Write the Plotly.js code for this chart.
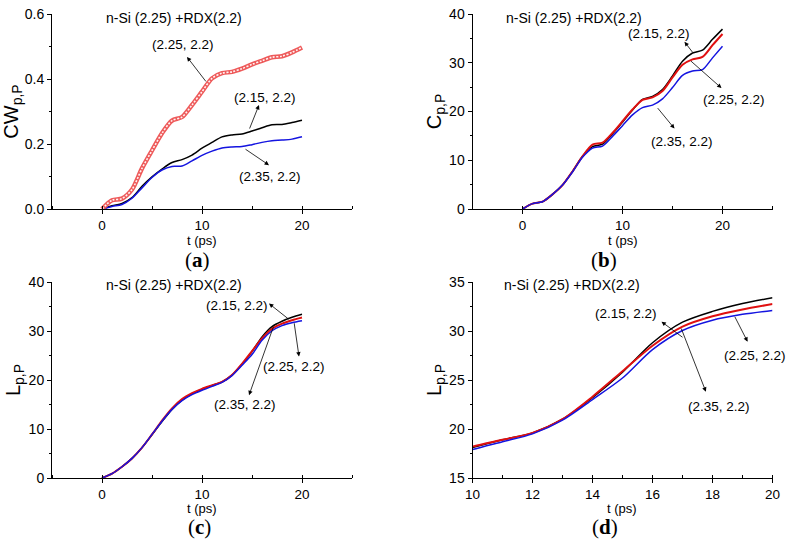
<!DOCTYPE html>
<html>
<head>
<meta charset="utf-8">
<script src="https://cdn.plot.ly/plotly-3.0.1.min.js"></script>
<style>html,body{margin:0;padding:0;background:#fff;}#chart{width:794px;height:540px;}</style>
</head>
<body>
<div id="chart"></div>
<script>
// ---------- data ----------
const tA = [0,1,2,3,4,5,6,7,8,9,10,11,12,13,14,15,16,17,18,19,20];
const cwBlack = [0,0.010,0.017,0.035,0.070,0.099,0.123,0.143,0.152,0.166,0.187,0.205,0.222,0.228,0.231,0.240,0.250,0.259,0.260,0.266,0.273];
const cwRed   = [0,0.027,0.032,0.060,0.125,0.180,0.233,0.272,0.283,0.320,0.361,0.402,0.418,0.422,0.432,0.445,0.456,0.467,0.470,0.482,0.497];
const cwBlue  = [0,0.008,0.014,0.033,0.065,0.097,0.120,0.131,0.132,0.148,0.165,0.178,0.188,0.191,0.192,0.198,0.205,0.210,0.212,0.215,0.222];

const tB = [0,1,2,3,4,5,6,7,8,9,10,11,12,13,14,15,16,17,18,19,20];
const cBlack = [0,1.1,1.5,3.0,4.9,7.7,10.8,12.8,13.3,15.4,17.8,20.3,22.5,23.1,24.5,27.3,30.3,32.0,32.6,34.8,36.9];
const cRed   = [0,1.1,1.5,3.0,4.9,7.7,10.8,13.2,13.6,15.6,18.0,20.4,22.4,22.9,24.2,27.0,29.6,30.7,31.2,33.6,35.9];
const cBlue  = [0,1.1,1.5,3.0,4.9,7.6,10.6,12.5,12.9,14.9,17.1,19.3,20.8,21.3,22.6,24.9,27.4,28.3,28.6,31.0,33.4];

const tL = [0,1,2,3,4,5,6,7,8,9,10,11,12,13,14,15,16,17,18,19,20];
const lBlack = [0,0.9,2.3,4.0,6.2,8.8,11.5,14.0,15.9,17.2,18.1,18.9,19.6,21.0,23.2,25.8,28.8,30.9,32.0,32.8,33.4];
const lRed   = [0,0.9,2.3,4.0,6.2,8.9,11.7,14.2,16.1,17.3,18.2,18.9,19.6,21.0,23.3,25.9,28.5,30.45,31.5,32.2,32.75];
const lBlue  = [0,0.9,2.3,4.0,6.2,8.9,11.6,14.0,15.8,17.0,17.9,18.7,19.5,20.9,23.0,25.2,28.1,30.05,31.1,31.7,32.1];

const seriesNames = ['(2.15, 2.2)','(2.25, 2.2)','(2.35, 2.2)'];
const systemLabel = 'n-Si (2.25) +RDX(2.2)';
const panelLabels = ['a','b','c','d'];
const yTitles = ['CW<sub>p,P</sub>','C<sub>p,P</sub>','L<sub>p,P</sub>','L<sub>p,P</sub>'];
const xTitle = 't (ps)';

// ---------- styles ----------
const BLACK = '#000000', RED = '#e01010', BLUE = '#1414e0';
const FONT = 'Liberation Sans, Arial, sans-serif';

function line(x, y, color, width, xa, ya) {
  return {x: x, y: y, xaxis: xa, yaxis: ya, mode: 'lines', type: 'scatter',
    line: {color: color, width: width, shape: 'spline', smoothing: 0.8}, hoverinfo: 'skip', showlegend: false};
}

const traces = [
  line(tA, cwBlack, BLACK, 1.5, 'x', 'y'),
  line(tA, cwBlue, BLUE, 1.5, 'x', 'y'),
  line(tA, cwRed, '#ee5a5a', 4.5, 'x', 'y'),
  line(tA, cwRed, '#fff2f2', 1.6, 'x', 'y'),
  line(tB, cBlack, BLACK, 1.5, 'x2', 'y2'),
  line(tB, cRed, RED, 2, 'x2', 'y2'),
  line(tB, cBlue, BLUE, 1.5, 'x2', 'y2'),
  line(tL, lBlack, BLACK, 1.5, 'x3', 'y3'),
  line(tL, lRed, RED, 2, 'x3', 'y3'),
  line(tL, lBlue, BLUE, 1.5, 'x3', 'y3'),
  line(tL, lBlack, BLACK, 1.5, 'x4', 'y4'),
  line(tL, lRed, RED, 2, 'x4', 'y4'),
  line(tL, lBlue, BLUE, 1.5, 'x4', 'y4')
];
traces[3].line.dash = '2px,1.5px';

function xax(domain, range, dtick, minorDtick, anchor) {
  return {domain: domain, range: range, dtick: dtick, anchor: anchor, showgrid: false, zeroline: false,
    showline: true, linecolor: '#000', linewidth: 1, ticks: 'outside', ticklen: 4, tickcolor: '#000', tickwidth: 1,
    tickfont: {family: FONT, size: 13.5, color: '#000'},
    minor: {dtick: minorDtick, ticks: 'inside', ticklen: 3, tickcolor: '#000', showgrid: false},
    fixedrange: true};
}
function yax(domain, range, dtick, minorDtick, anchor, title, fmt) {
  return {domain: domain, range: range, dtick: dtick, anchor: anchor, showgrid: false, zeroline: false,
    showline: true, linecolor: '#000', linewidth: 1, ticks: 'outside', ticklen: 4, tickcolor: '#000', tickwidth: 1,
    tickformat: fmt || '', tickfont: {family: FONT, size: 14, color: '#000'},
    minor: {dtick: minorDtick, ticks: 'outside', ticklen: 2, tickcolor: '#000', showgrid: false},
    title: {text: title, font: {family: FONT, size: 20, color: '#000'}, standoff: 2}, fixedrange: true};
}

const W = 794, H = 540;
const dxL = [52/W, 352/W], dxR = [472.5/W, 772.5/W];
const dyT = [1-209/H, 1-14/H], dyB = [1-478/H, 1-282/H];

function txt(xr, yr, x, y, s, size) {
  return {xref: xr, yref: yr, x: x, y: y, text: s, showarrow: false, font: {family: FONT, size: size || 13.5, color: '#000'}, xanchor: 'center', yanchor: 'middle'};
}
function arr(xr, yr, hx, hy, tx, ty) {
  return {xref: xr, yref: yr, axref: xr, ayref: yr, x: hx, y: hy, ax: tx, ay: ty, text: '', showarrow: true,
    arrowhead: 2, arrowsize: 1.1, arrowwidth: 0.8, arrowcolor: '#000'};
}
function plab(x, y, s) {
  return {xref: 'paper', yref: 'paper', x: x/W, y: 1-y/H, text: '(<b>' + s + '</b>)', showarrow: false,
    font: {family: 'Liberation Serif, Times New Roman, serif', size: 21, color: '#000'}, xanchor: 'center', yanchor: 'middle'};
}
function xlab(x, y) {
  return {xref: 'paper', yref: 'paper', x: x/W, y: 1-y/H, text: xTitle, showarrow: false,
    font: {family: FONT, size: 13, color: '#000'}, xanchor: 'center', yanchor: 'middle'};
}

const annotations = [
  // (a)
  txt('x','y', 7.2, 0.588, systemLabel, 14),
  txt('x','y', 8.1, 0.505, seriesNames[1]), arr('x','y', 8.5, 0.468, 10.5, 0.388),
  txt('x','y', 16.3, 0.342, seriesNames[0]), arr('x','y', 15.7, 0.320, 14.7, 0.243),
  txt('x','y', 16.8, 0.099, seriesNames[2]), arr('x','y', 16.7, 0.135, 14.2, 0.187),
  // (b)
  txt('x2','y2', 5.1, 39.1, systemLabel, 14),
  txt('x2','y2', 13.6, 36.0, seriesNames[0]), arr('x2','y2', 16.2, 34.3, 17.1, 31.9),
  txt('x2','y2', 21.1, 22.4, seriesNames[1]), arr('x2','y2', 19.9, 24.8, 16.7, 30.6),
  txt('x2','y2', 15.9, 13.8, seriesNames[2]), arr('x2','y2', 15.2, 16.5, 13.4, 21.0),
  // (c)
  txt('x3','y3', 7.2, 39.4, systemLabel, 14),
  txt('x3','y3', 13.5, 35.3, seriesNames[0]), arr('x3','y3', 16.7, 35.6, 18.8, 32.2),
  txt('x3','y3', 19.2, 22.7, seriesNames[1]), arr('x3','y3', 19.7, 24.8, 19.2, 31.9),
  txt('x3','y3', 14.3, 14.9, seriesNames[2]), arr('x3','y3', 14.7, 16.9, 17.2, 31.2),
  // (d)
  txt('x4','y4', 13.3, 34.7, systemLabel, 14),
  txt('x4','y4', 15.1, 31.8, seriesNames[0]), arr('x4','y4', 16.3, 30.95, 17.05, 29.25),
  txt('x4','y4', 19.4, 27.55, seriesNames[1]), arr('x4','y4', 19.17, 28.9, 18.72, 31.6),
  txt('x4','y4', 18.2, 22.3, seriesNames[2]), arr('x4','y4', 17.78, 23.8, 16.94, 30.4),
  // x titles
  xlab(202, 240), xlab(622.5, 240), xlab(202, 508), xlab(622, 508),
  // panel labels
  plab(197, 260, panelLabels[0]), plab(604, 260, panelLabels[1]),
  plab(199, 527, panelLabels[2]), plab(605, 527, panelLabels[3])
];

const layout = {
  width: W, height: H, margin: {l: 0, r: 0, t: 0, b: 0}, paper_bgcolor: '#fff', plot_bgcolor: 'rgba(0,0,0,0)',
  showlegend: false, font: {family: FONT, color: '#000'},
  xaxis:  xax(dxL, [-5, 25], 10, 5, 'y'),
  yaxis:  yax(dyT, [0, 0.6], 0.2, 0.1, 'x', yTitles[0], '.1f'),
  xaxis2: xax(dxR, [-5, 25], 10, 5, 'y2'),
  yaxis2: yax(dyT, [0, 40], 10, 5, 'x2', yTitles[1]),
  xaxis3: xax(dxL, [-5, 25], 10, 5, 'y3'),
  yaxis3: yax(dyB, [0, 40], 10, 5, 'x3', yTitles[2]),
  xaxis4: xax(dxR, [10, 20], 2, 1, 'y4'),
  yaxis4: yax(dyB, [15, 35], 5, 2.5, 'x4', yTitles[3]),
  annotations: annotations
};

Plotly.newPlot('chart', traces, layout, {staticPlot: true, displayModeBar: false});
</script>
</body>
</html>
